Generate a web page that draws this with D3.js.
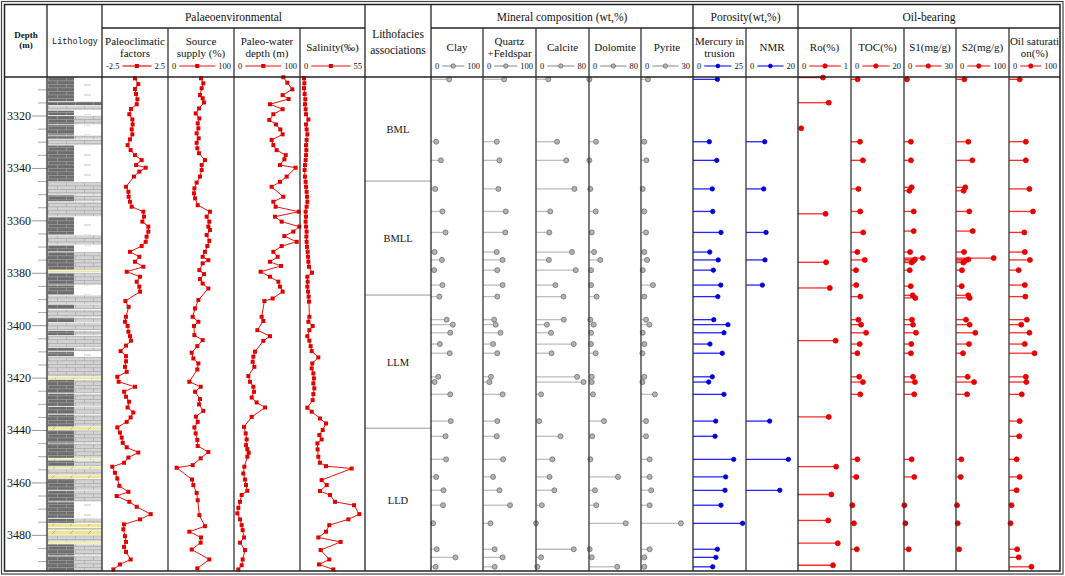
<!DOCTYPE html>
<html><head><meta charset="utf-8">
<script src="https://cdn.jsdelivr.net/npm/d3@7"></script>
<style>body{margin:0;background:#fff}svg{display:block}text{font-family:"Liberation Serif","Times New Roman",serif;fill:#111}</style>
</head><body><svg id="c" width="1065" height="576"></svg>
<script>
// ---------------- DATA ----------------
const depthRange=[3305.3,3493.8];
const depthTicks=[3320,3340,3360,3380,3400,3420,3440,3460,3480];
const minorTicks=[3310,3315,3325,3330,3335,3345,3350,3355,3365,3370,3375,3385,3390,3395,3405,3410,3415,3425,3430,3435,3445,3450,3455,3465,3470,3475,3485,3490];

const paleoclimatic=[[3305.8,0],[3308.0,0.25],[3309.9,0],[3311.8,0.08],[3313.8,0.18],[3315.7,0.13],[3317.5,-0.3],[3319.5,-0.43],[3321.5,-0.2],[3323.4,-0.18],[3325.3,-0.25],[3327.2,-0.2],[3329.1,-0.38],[3331.3,-0.56],[3333.2,-0.33],[3335.1,0],[3337.0,0.5],[3338.9,0.08],[3339.9,0.81],[3341.4,0.33],[3343.3,-0.08],[3347.2,-0.68],[3349.1,-0.5],[3351.0,-0.48],[3352.9,-0.38],[3354.8,-0.25],[3356.7,0.63],[3358.6,0.68],[3360.5,0.56],[3362.4,1.01],[3364.3,1.01],[3366.2,0.88],[3368.2,0.81],[3369.8,0.5],[3372.0,-0.38],[3373.9,0.33],[3375.8,0],[3377.7,0.63],[3379.6,-0.63],[3381.5,0.38],[3383.4,0.13],[3385.3,0.33],[3387.2,0.38],[3390.8,-0.73],[3393.0,-0.48],[3396.8,-0.68],[3398.7,-0.76],[3400.3,-0.56],[3402.5,-0.5],[3404.2,-0.38],[3405.9,-0.3],[3407.8,-0.68],[3409.9,-1.09],[3411.8,-0.68],[3413.8,-0.68],[3415.9,-0.76],[3417.8,-0.63],[3419.7,-1.34],[3421.6,-1.24],[3423.5,0],[3425.4,-0.83],[3427.3,-0.68],[3429.2,-0.45],[3431.4,-0.56],[3433.3,-0.13],[3435.2,-0.33],[3436.9,-0.63],[3439.0,-1.34],[3441.0,-1.14],[3442.9,-1.01],[3444.9,-0.93],[3446.6,-0.63],[3448.6,0.25],[3450.5,-0.5],[3452.5,-0.83],[3454.0,-1.72],[3456.3,-1.52],[3458.5,-1.34],[3461.3,-1.19],[3463.6,-0.5],[3465.2,-1.39],[3467.4,-0.43],[3469.3,0.13],[3472.1,1.19],[3474.1,0.38],[3476.0,-0.83],[3477.9,-0.88],[3480.5,-0.76],[3482.7,-0.68],[3484.6,-0.83],[3486.5,-0.68],[3489.4,-0.33],[3491.3,-1.14],[3493.2,-1.64]];

const sourceSupply=[[3305.8,50],[3307.7,53.5],[3309.6,51],[3312.2,48.5],[3313.4,52.5],[3315.0,54.5],[3317.3,47],[3319.2,42],[3321.1,47.5],[3323.0,45],[3324.9,46],[3326.8,43.4],[3328.7,46.5],[3330.4,43.4],[3332.5,44.4],[3334.4,47],[3337.0,56],[3338.9,51],[3340.8,51],[3343.3,48.5],[3345.6,43.4],[3347.8,40],[3349.7,39.4],[3351.6,41],[3354.2,45],[3356.7,63.6],[3358.6,58.6],[3360.5,62.6],[3362.4,61.1],[3363.7,63.6],[3365.6,58.6],[3367.8,62.6],[3369.8,59.6],[3372.0,56],[3373.9,52.5],[3375.2,61.1],[3376.4,52.5],[3379.0,47.5],[3380.5,54.5],[3382.4,48.5],[3384.1,52.5],[3386.0,61.1],[3390.4,46],[3393.6,41],[3396.8,37.4],[3398.7,46],[3400.3,39.4],[3403.8,40],[3405.7,52.5],[3408.0,44.4],[3410.5,35.9],[3412.7,38.4],[3414.6,46],[3416.9,44.4],[3421.6,32.3],[3423.5,49.5],[3425.4,41],[3428.2,48.5],[3430.2,47],[3432.7,53.5],[3434.9,42.4],[3436.9,45],[3439.0,40],[3441.3,42],[3443.8,44.4],[3446.1,45],[3448.4,61.1],[3450.8,49.5],[3453.4,37.4],[3454.4,13.1],[3458.9,36.4],[3461.0,38.4],[3464.0,43.4],[3466.8,45],[3472.5,47.5],[3476.7,56],[3478.8,32.3],[3481.0,50],[3483.0,49.5],[3485.6,35.9],[3489.4,62.6],[3492.8,44.4]];

const paleoWaterDepth=[[3305.4,74.7],[3307.5,80.8],[3310.0,88.4],[3312.2,73.7],[3313.7,82.8],[3315.7,54.5],[3317.6,73.7],[3319.5,59.6],[3321.7,53.5],[3323.4,63.6],[3325.3,70.2],[3327.2,73.7],[3329.3,57],[3331.3,59.6],[3333.2,64.6],[3335.1,78.3],[3336.7,76.3],[3338.9,69.7],[3339.9,93.4],[3343.3,79.8],[3345.3,69.7],[3347.2,57],[3351.0,74.7],[3352.9,59.6],[3354.8,63.1],[3356.7,98],[3358.6,62.1],[3360.5,72.2],[3362.4,99],[3364.3,89.9],[3366.0,76.3],[3368.2,95],[3369.8,72.2],[3372.0,59.6],[3373.9,66.2],[3375.8,54.5],[3377.4,71.2],[3379.6,40.4],[3381.5,54.5],[3383.4,67.2],[3385.3,69.7],[3387.2,73.7],[3389.8,58.6],[3390.8,46],[3396.8,41.9],[3398.4,44.4],[3401.9,35.4],[3404.2,54.5],[3406.0,44.4],[3410.1,31.8],[3412.0,29.3],[3414.0,28.3],[3415.9,30.8],[3419.4,21.7],[3421.6,24.2],[3423.5,29.3],[3425.4,30.3],[3427.6,26.8],[3429.5,34.3],[3431.4,47],[3435.0,26.8],[3438.8,15.2],[3441.3,17.7],[3443.6,19.2],[3445.8,18.2],[3447.3,20.2],[3448.7,22.2],[3450.2,20.2],[3454.0,15.7],[3456.6,14.1],[3458.9,16.7],[3461.0,18.2],[3463.2,20.2],[3464.8,11.6],[3467.4,9.1],[3469.7,6.6],[3471.8,5.1],[3474.1,9.1],[3476.3,11.6],[3478.2,13.1],[3481.0,15.2],[3483.0,9.1],[3485.8,16.7],[3489.4,13.1],[3491.6,11.6],[3493.2,6.6]];

const salinity=[[3305.8,3.4],[3307.7,3.7],[3309.6,3.4],[3311.8,3.9],[3313.8,4.5],[3315.7,4.2],[3317.6,4.8],[3319.5,5.1],[3321.5,7.1],[3323.4,5.1],[3325.3,5.6],[3327.2,6.2],[3329.3,5.6],[3331.3,5.1],[3333.2,5.4],[3335.1,5.1],[3337.0,4.8],[3338.9,4.2],[3340.8,3.9],[3343.3,4.2],[3345.3,4.8],[3347.2,5.1],[3349.1,5.6],[3351.0,5.9],[3352.9,6.2],[3354.8,5.6],[3356.7,4.8],[3358.6,5.1],[3360.5,4.8],[3362.4,5.1],[3364.3,5.6],[3366.2,5.4],[3368.2,5.6],[3370.1,5.9],[3372.0,6.5],[3373.9,6.8],[3375.8,7.1],[3377.7,7.6],[3380.0,10.2],[3381.5,6.2],[3383.4,6.5],[3385.3,6.2],[3387.2,6.8],[3389.1,7.3],[3391.0,7.6],[3396.8,7.9],[3398.7,7.1],[3400.3,10.7],[3401.9,7.9],[3404.2,6.2],[3405.9,7.9],[3408.0,9],[3409.9,9.9],[3412.3,15.5],[3414.6,10.4],[3416.5,9.9],[3418.4,11.3],[3420.3,11.8],[3422.2,11.3],[3424.1,12.1],[3426.3,11.3],[3428.6,10.7],[3431.5,6.2],[3433.0,9.9],[3435.6,16.9],[3437.5,22],[3440.0,19.2],[3441.9,16.4],[3443.6,18.3],[3445.1,14.7],[3447.4,14.9],[3450.2,15.5],[3452.5,16.9],[3453.8,22],[3454.7,43.7],[3459.1,18.3],[3461.0,22.6],[3463.3,16.9],[3464.8,25.4],[3467.4,29.6],[3468.7,45.7],[3472.1,50.2],[3474.1,40.9],[3476.3,24.8],[3478.8,22],[3481.0,15.5],[3482.7,34.4],[3485.8,17.5],[3489.4,24.8],[3491.3,16.1],[3493.2,28.2]];

const sampleDepths=[3306.2,3330.0,3337.1,3348.0,3356.6,3364.6,3372.1,3375.1,3379.0,3384.7,3389.1,3397.9,3399.8,3402.9,3407.2,3410.7,3419.7,3421.7,3426.4,3436.6,3442.4,3451.2,3457.9,3463.0,3468.7,3475.6,3485.5,3488.6,3492.2];
const clay=[35,10,19,8,22,28,7,21,6,22,16,30,42,37,17,36,14,7,37,38,28,29,10,24,23,4,11,47,9];
const quartzFeldspar=[40,26,31,29,43,42,26,37,27,37,27,21,24,33,19,27,15,12,37,27,26,38,19,31,51,14,22,37,22];
const calcite=[18.5,31.8,45.7,58,21.5,20,54.3,19.5,60,29.2,41.5,42,16.5,22.6,57,23.5,62,71.8,7.7,4.6,37,24.6,20.5,27.7,8.8,0,57,7.7,2];
const dolomite=[0.5,10.8,0.5,2,10.3,4.2,7.7,17.4,3.1,3.1,11.8,2,7.2,3.1,3.1,10.3,4.2,4.2,6.2,23,5,2,44.6,9.2,11.2,56.5,1,4.2,43.5];
const pyrite=[4,1.9,3.1,1,1.9,2.9,1.9,3.5,1,6.9,1.9,2.9,4.8,1,1.9,0.8,1.9,0.8,8,2.9,2.9,5,5,5.9,5,23,5,1.9,1.9];
const mercury=[11.5,7.7,11.2,9.1,9.3,13.2,7.9,11.9,9.6,13.1,11.7,9.8,16.5,14.6,8,13.8,9.1,7.4,14.6,10.7,10.4,19.2,15.4,15.1,13.2,23.4,11.5,10.8,9.3];
const oilSaturation=[21,33,33,40,47,30,31,41,19,31,32,35,24,40,31,50,33,34,25,21,20,15,21,15,5,3,16,19,44];

const nmrDepths=[3330.0,3348.0,3364.6,3375.1,3384.7,3436.6,3451.2,3463.0];
const nmr=[7.2,6.8,7.7,7.3,6.3,9.1,16.3,13];

const roDepths=[3305.5,3315.1,3324.9,3357.5,3376.0,3385.8,3405.9,3435.0,3454.0,3464.6,3474.5,3483.2,3491.6];
const ro=[0.47,0.58,0.06,0.52,0.53,0.60,0.71,0.58,0.72,0.63,0.57,0.75,0.66];

const tocDepths=[3306.2,3330.0,3337.1,3348.0,3356.6,3364.6,3372.1,3375.1,3379.0,3384.7,3389.1,3397.9,3399.8,3402.9,3407.2,3410.7,3419.7,3421.7,3426.4,3451.2,3457.9,3468.7,3475.6,3485.5];
const toc=[2.5,3.4,4.5,2.8,3.5,4.6,2.4,5.2,1.9,2.0,3.5,2.8,3.8,5.7,3.3,2.4,3.1,4.5,3.5,2.4,2.0,0.5,1.1,2.2];

const s12Depths=[3306.2,3330.0,3337.1,3347.4,3348.7,3356.6,3364.1,3372.1,3374.4,3374.9,3375.5,3376.1,3379.0,3385.1,3388.6,3389.6,3397.9,3399.8,3402.9,3407.2,3410.7,3419.7,3421.7,3426.4,3451.2,3457.9,3468.7,3475.6,3485.5];
const s1=[1.7,4,4,4.4,3.1,5.6,5.6,3.5,10.8,6.3,5.4,4.4,3.3,3.9,5,6.5,4.6,5.2,6.9,4.2,4,5.2,6.3,5.9,4.4,5.9,0.2,0.8,2.7];
const s2=[15.7,23.2,30.8,17.5,14.5,25.1,31.5,15.1,71.1,23.2,17,13.8,11.3,10.8,23.2,25.8,18.9,25.8,36.4,24.5,13.2,22.1,34,20.8,10,8.9,1.9,3.2,5.7];

const faciesBounds=[3305.3,3345,3388.5,3439.3,3493.8];
const faciesNames=['BML','BMLL','LLM','LLD'];

// lithology intervals: [top, bottom, left-half type, right-half type]
const lithology=[[3305.3,3314.7,'D','W'],[3314.7,3316.2,'D','D'],[3316.2,3318.0,'L','L'],[3318.0,3320.0,'D','W'],[3320.0,3323.5,'D','L'],[3323.5,3327.5,'D','W'],[3327.5,3329.0,'D','L'],[3329.0,3331.3,'L','L'],[3331.3,3345.3,'D','W'],[3345.3,3350.3,'L','L'],[3350.3,3352.9,'D','L'],[3352.9,3358.6,'L','L'],[3358.6,3365.6,'D','W'],[3365.6,3369.4,'L','L'],[3369.4,3372.0,'D','W'],[3372.0,3379.0,'D','L'],[3379.0,3380.0,'S','S'],[3380.0,3384.7,'D','L'],[3384.7,3388.5,'D','W'],[3388.5,3392.0,'L','L'],[3392.0,3394.0,'D','L'],[3394.0,3397.0,'L','L'],[3397.0,3399.0,'D','L'],[3399.0,3402.0,'L','L'],[3402.0,3404.0,'D','L'],[3404.0,3408.5,'L','L'],[3408.5,3410.1,'D','L'],[3410.1,3412.0,'D','W'],[3412.0,3419.7,'L','L'],[3419.7,3420.7,'S','S'],[3420.7,3426.0,'D','L'],[3426.0,3431.0,'D','L'],[3431.0,3434.0,'D','L'],[3434.0,3438.8,'D','L'],[3438.8,3440.0,'S','S'],[3440.0,3445.0,'D','L'],[3445.0,3450.8,'D','L'],[3450.8,3451.5,'S','S'],[3451.5,3454.0,'D','L'],[3454.0,3454.9,'S','S'],[3454.9,3457.2,'L','L'],[3457.2,3458.5,'S','S'],[3458.5,3463.0,'D','L'],[3463.0,3467.4,'D','L'],[3467.4,3473.7,'D','W'],[3473.7,3475.7,'D','L'],[3475.7,3477.2,'S','S'],[3477.2,3478.2,'L','L'],[3478.2,3480.1,'S','S'],[3480.1,3482.7,'L','L'],[3482.7,3483.5,'S','S'],[3483.5,3488.0,'D','L'],[3488.0,3493.8,'D','L']];

// ---------------- DRAW ----------------
const svg=d3.select('#c');
const TOP=77,BOT=571;
const y=d3.scaleLinear().domain(depthRange).range([TOP,BOT]);
const colX=[5,47,102,168,234,300,365,431,483,536,589,641,693,746,798,851,904,956,1009,1060];

// patterns
const defs=svg.append('defs');
function brick(id,bg,fg){
  const p=defs.append('pattern').attr('id',id).attr('patternUnits','userSpaceOnUse').attr('x',48).attr('y',0).attr('width',18).attr('height',7);
  p.append('rect').attr('width',18).attr('height',7).attr('fill',bg);
  p.append('path').attr('d','M0,0.5H18M0,3.8H18M0.5,0.5V3.8M9.5,3.8V7').attr('stroke',fg).attr('stroke-width',0.6).attr('fill','none');
}
brick('patD','#6d6d6d','#a9a9a9');
brick('patL','#d3d3d3','#a0a0a0');
(function(){
  const p=defs.append('pattern').attr('id','patS').attr('patternUnits','userSpaceOnUse').attr('x',48).attr('width',18).attr('height',8);
  p.append('rect').attr('width',18).attr('height',8).attr('fill','#eee68e');
  p.append('path').attr('d','M4,6L8,2').attr('stroke','#8a8450').attr('stroke-width',0.6);
  const q=defs.append('pattern').attr('id','patW').attr('patternUnits','userSpaceOnUse').attr('x',74).attr('width',27).attr('height',10);
  q.append('rect').attr('width',27).attr('height',10).attr('fill','#fff');
  q.append('path').attr('d','M10,5H17').attr('stroke','#9a9a9a').attr('stroke-width',0.6);
})();

const litho=svg.append('g');
const LX0=48,LXM=74,LX1=101.5;
lithology.forEach(([a,b,l,r])=>{
  const y0=y(a),y1=y(b);
  if(l===r){
    litho.append('rect').attr('x',LX0).attr('y',y0).attr('width',LX1-LX0).attr('height',y1-y0).attr('fill',`url(#pat${l})`);
  }else{
    litho.append('rect').attr('x',LX0).attr('y',y0).attr('width',LXM-LX0).attr('height',y1-y0).attr('fill',`url(#pat${l})`);
    litho.append('rect').attr('x',LXM).attr('y',y0).attr('width',LX1-LXM).attr('height',y1-y0).attr('fill',`url(#pat${r})`);
  }
  litho.append('line').attr('x1',LX0).attr('x2',LX1).attr('y1',y0).attr('y2',y0).attr('stroke','#fff').attr('stroke-width',0.7);
});

// depth axis
const ax=svg.append('g').attr('transform','translate(47,0)')
  .call(d3.axisLeft(y).tickValues(depthTicks).tickSize(15).tickPadding(1).tickFormat(d3.format('d')));
ax.attr('font-family',null).attr('font-size',null);
ax.select('.domain').remove();
ax.selectAll('line').attr('stroke','#999');
ax.selectAll('text').style('font-family','"Liberation Serif", serif').style('font-size','12px').attr('fill','#111');
const ax2=svg.append('g').attr('transform','translate(47,0)')
  .call(d3.axisLeft(y).tickValues(minorTicks).tickSize(9).tickFormat(''));
ax2.select('.domain').remove();
ax2.selectAll('line').attr('stroke','#aaa');

// curve tracks
const curveTracks=[
  {i:2,data:paleoclimatic,dom:[-2.5,2.5]},
  {i:3,data:sourceSupply,dom:[0,100]},
  {i:4,data:paleoWaterDepth,dom:[0,100]},
  {i:5,data:salinity,dom:[0,55]}
];
curveTracks.forEach(t=>{
  const xs=d3.scaleLinear().domain(t.dom).range([colX[t.i],colX[t.i+1]]);
  const g=svg.append('g');
  g.append('path').datum(t.data).attr('d',d3.line().x(d=>xs(d[1])).y(d=>y(d[0])))
    .attr('fill','none').attr('stroke','#f01010').attr('stroke-width',1);
  g.selectAll('rect').data(t.data).join('rect')
    .attr('x',d=>xs(d[1])-2).attr('y',d=>y(d[0])-2).attr('width',4).attr('height',4).attr('fill','#e00000');
});

// lollipop tracks
const styles={
  gray:{line:'#bdbdbd',fill:'#b3b3b3',stroke:'#6f6f6f',r:2.5},
  blue:{line:'#2424ff',fill:'#0000d8',stroke:'#0000d8',r:2.2},
  red:{line:'#ff2a2a',fill:'#e60000',stroke:'#e60000',r:2.5}
};
const lolTracks=[
  {i:7,d:sampleDepths,v:clay,dom:[0,100],s:'gray'},
  {i:8,d:sampleDepths,v:quartzFeldspar,dom:[0,100],s:'gray'},
  {i:9,d:sampleDepths,v:calcite,dom:[0,80],s:'gray'},
  {i:10,d:sampleDepths,v:dolomite,dom:[0,80],s:'gray'},
  {i:11,d:sampleDepths,v:pyrite,dom:[0,30],s:'gray'},
  {i:12,d:sampleDepths,v:mercury,dom:[0,25],s:'blue'},
  {i:13,d:nmrDepths,v:nmr,dom:[0,20],s:'blue'},
  {i:14,d:roDepths,v:ro,dom:[0,1],s:'red'},
  {i:15,d:tocDepths,v:toc,dom:[0,20],s:'red'},
  {i:16,d:s12Depths,v:s1,dom:[0,30],s:'red'},
  {i:17,d:s12Depths,v:s2,dom:[0,100],s:'red'},
  {i:18,d:sampleDepths,v:oilSaturation,dom:[0,100],s:'red'}
];
lolTracks.forEach(t=>{
  const xs=d3.scaleLinear().domain(t.dom).range([colX[t.i],colX[t.i+1]]);
  const st=styles[t.s];
  const pts=t.d.map((d,k)=>[d,t.v[k]]);
  const g=svg.append('g');
  g.selectAll('line').data(pts).join('line')
    .attr('x1',xs(0)).attr('x2',d=>xs(d[1])).attr('y1',d=>y(d[0])).attr('y2',d=>y(d[0]))
    .attr('stroke',st.line).attr('stroke-width',1.3);
  g.selectAll('circle').data(pts).join('circle')
    .attr('cx',d=>xs(d[1])).attr('cy',d=>y(d[0])).attr('r',st.r)
    .attr('fill',st.fill).attr('stroke',st.stroke).attr('stroke-width',0.8);
});

// lithofacies
const fg=svg.append('g');
faciesNames.forEach((n,k)=>{
  const a=faciesBounds[k],b=faciesBounds[k+1];
  fg.append('text').attr('x',(colX[6]+colX[7])/2).attr('y',(y(a)+y(b))/2+4).attr('text-anchor','middle').attr('font-size',10.5).text(n);
  if(k>0) fg.append('line').attr('x1',colX[6]).attr('x2',colX[7]).attr('y1',y(a)).attr('y2',y(a)).attr('stroke','#999').attr('stroke-width',1);
});

// ---------------- HEADER & GRID ----------------
const hg=svg.append('g');
const LC='#222';
function hl(x1,x2,yy,w){hg.append('line').attr('x1',x1).attr('x2',x2).attr('y1',yy).attr('y2',yy).attr('stroke',LC).attr('stroke-width',w||1.3);}
function vl(xx,y1,y2,w,c){hg.append('line').attr('x1',xx).attr('x2',xx).attr('y1',y1).attr('y2',y2).attr('stroke',c||LC).attr('stroke-width',w||1.3);}
hl(102,365,28);hl(431,1060,28);hl(5,1060,77);
[47,102,365,431,693,798].forEach(x=>vl(x,5,571));
[168,234,300,483,536,589,641,746,851,904,956,1009].forEach(x=>vl(x,28,571,1.3,'#333'));
hg.append('rect').attr('x',1.5).attr('y',1.5).attr('width',1061.5).attr('height',572.5).attr('fill','none').attr('stroke','#444').attr('stroke-width',1.2);
hg.append('rect').attr('x',4.5).attr('y',4.5).attr('width',1055.5).attr('height',566.5).attr('fill','none').attr('stroke','#222').attr('stroke-width',1.5);

function txt(x,yy,s,size,opt){
  const t=hg.append('text').attr('x',x).attr('y',yy).attr('text-anchor',(opt&&opt.anchor)||'middle').attr('font-size',size).text(s);
  if(opt&&opt.bold)t.attr('font-weight','bold');
  if(opt&&opt.family)t.style('font-family',opt.family);
  if(opt&&opt.ls)t.attr('letter-spacing',opt.ls);
  return t;
}
const groups=[['Palaeoenvironmental',102,365],['Mineral composition (wt,%)',431,693],['Porosity(wt,%)',693,798],['Oil-bearing',798,1060]];
groups.forEach(g=>txt((g[1]+g[2])/2,21,g[0],11.5));
txt(26,38,'Depth',9,{bold:true});txt(26,48,'(m)',9,{bold:true});
txt(75,44,'Lithology',8.5,{family:'"Liberation Mono", monospace'});
txt(398,38,'Lithofacies',11.5);txt(398,54,'associations',11.5);

const headLabels=[
  [2,['Paleoclimatic','factors']],[3,['Source','supply (%)']],[4,['Paleo-water','depth (m)']],[5,['Salinity(‰)']],
  [7,['Clay']],[8,['Quartz','+Feldspar']],[9,['Calcite']],[10,['Dolomite']],[11,['Pyrite']],
  [12,['Mercury in','trusion']],[13,['NMR']],[14,['Ro(%)']],[15,['TOC(%)']],[16,['S1(mg/g)']],[17,['S2(mg/g)']],[18,['Oil saturati','on(%)']]
];
headLabels.forEach(([i,lines])=>{
  const cx=(colX[i]+colX[i+1])/2;
  if(lines.length===2){txt(cx,45,lines[0],11);txt(cx,57,lines[1],11);}
  else txt(cx,51,lines[0],11);
});

const legendRanges=[[2,'-2.5','2.5','sq'],[3,'0','100','sq'],[4,'0','100','sq'],[5,'0','55','sq'],
  [7,'0','100','gray'],[8,'0','100','gray'],[9,'0','80','gray'],[10,'0','80','gray'],[11,'0','30','gray'],
  [12,'0','25','blue'],[13,'0','20','blue'],[14,'0','1','red'],[15,'0','20','red'],[16,'0','30','red'],[17,'0','100','red'],[18,'0','100','red']];
legendRanges.forEach(([i,lo,hi,k])=>{
  const x0=colX[i],x1=colX[i+1],ly=69;
  const t1=txt(x0+4,ly,lo,8.5,{anchor:'start'});
  const t2=txt(x1-3,ly,hi,8.5,{anchor:'end'});
  const w1=t1.node().getComputedTextLength(),w2=t2.node().getComputedTextLength();
  const a=x0+4+w1+3,b=x1-3-w2-3,m=(a+b)/2,yy=ly-3;
  const col=k==='sq'?'#f01010':k==='gray'?'#999':k==='blue'?'#2424ff':'#ff2a2a';
  hg.append('line').attr('x1',a).attr('x2',b).attr('y1',yy).attr('y2',yy).attr('stroke',col).attr('stroke-width',1.2);
  if(k==='sq')hg.append('rect').attr('x',m-2).attr('y',yy-2).attr('width',4).attr('height',4).attr('fill','#e00000');
  else{const st=styles[k];hg.append('circle').attr('cx',m).attr('cy',yy).attr('r',st.r-0.3).attr('fill',st.fill).attr('stroke',st.stroke).attr('stroke-width',0.8);}
});
</script></body></html>
